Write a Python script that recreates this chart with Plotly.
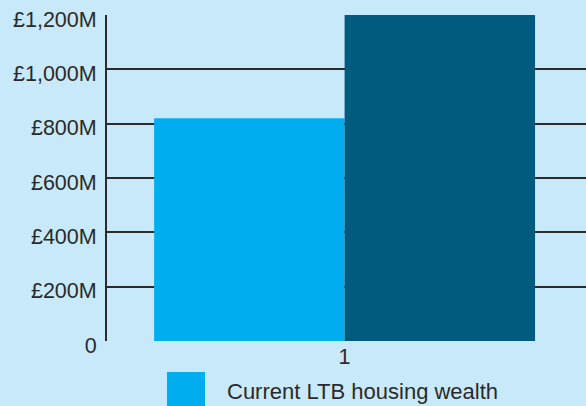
import plotly.graph_objects as go

categories = ["1"]
series_names = ["Current LTB housing wealth", "Potential housing wealth"]
series_values = [[820], [1200]]
series_colors = ["#00aeef", "#005b7f"]
tick_vals = [0, 200, 400, 600, 800, 1000, 1200]
tick_text = ["0", "£200M", "£400M", "£600M", "£800M", "£1,000M", "£1,200M"]

BG = "#c7e9f9"
TXT = "#2a2a2a"
FONT = "Liberation Sans, Arial, sans-serif"
FS = 21.5

fig = go.Figure()
for name, vals, col in zip(series_names, series_values, series_colors):
    fig.add_trace(go.Bar(x=[1], y=vals, name=name, marker=dict(color=col, line=dict(width=0)),
                         showlegend=False))

fig.update_layout(
    width=586, height=406,
    margin=dict(l=107, r=0, t=15, b=65),
    paper_bgcolor=BG, plot_bgcolor=BG,
    barmode="group", bargap=0.2, bargroupgap=0,
    font=dict(family=FONT, size=FS, color=TXT),
    xaxis=dict(range=[0.501, 1.507], tickvals=[1], ticktext=categories, showgrid=False,
               zeroline=False, showline=False, ticks="", tickfont=dict(size=FS, color=TXT)),
    yaxis=dict(range=[0, 1200], tickvals=tick_vals, ticktext=tick_text, showgrid=True,
               gridcolor="#2b2b2b", gridwidth=1.6, zeroline=False, showline=True,
               linecolor="#2b2b2b", linewidth=2, ticks="", ticklen=0,
               ticklabelstandoff=4, ticklabelshift=4,
               tickfont=dict(size=FS, color=TXT)),
)

# legend (first entry visible; the rest falls below the visible page)
fig.add_shape(type="rect", xref="paper", yref="paper",
              x0=(167 - 107) / 479, x1=(205 - 107) / 479,
              y0=(341 - 410) / 326, y1=(341 - 372) / 326,
              fillcolor=series_colors[0], line=dict(width=0))
fig.add_annotation(xref="paper", yref="paper", x=(225 - 107) / 479, y=(341 - 391) / 326,
                   text=series_names[0], showarrow=False, xanchor="left", yanchor="middle",
                   font=dict(size=22, color=TXT, family=FONT))

fig.write_html("out.html", config={"displayModeBar": False},
               post_script="document.body.style.margin='0';document.body.style.overflow='hidden';")
